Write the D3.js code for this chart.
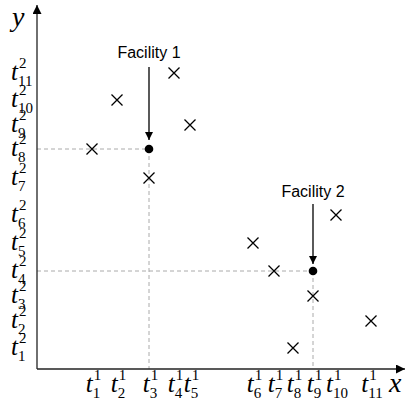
<!DOCTYPE html>
<html>
<head>
<meta charset="utf-8">
<script src="https://cdn.jsdelivr.net/npm/d3@7"></script>
<style>
  html, body { margin: 0; padding: 0; background: #fff; }
  svg { display: block; }
  .serif { font-family: "Liberation Serif", Tinos, "Times New Roman", "DejaVu Serif", serif; }
  .sans { font-family: "Liberation Sans", Arimo, Arial, Helvetica, sans-serif; }
</style>
</head>
<body>
<svg id="chart" width="406" height="401"></svg>
<script>
// Coordinates of the breakpoints on each axis (t^1_i on x, t^2_j on y)
const xTickSubs = ["1","2","3","4","5","6","7","8","9","10","11"];
const xTickValues = [55, 80, 112, 137, 153, 216, 237, 256, 276, 299, 334];
const xTickSup = "1";

const yTickSubs = ["1","2","3","4","5","6","7","8","9","10","11"];
const yTickValues = [21, 48, 73, 98, 126, 154, 191, 220, 244, 269, 296];
const yTickSup = "2";

// Demand points: [index of t^1, index of t^2] (1-based)
const demandX = [1, 2, 3, 4, 5, 6, 7, 8, 9, 10, 11];
const demandY = [8, 10, 7, 11, 9, 5, 4, 1, 3, 6, 2];

// Facilities located on breakpoint intersections
const facilityNames = ["Facility 1", "Facility 2"];
const facilityX = [3, 9];
const facilityY = [8, 4];

// Vertical placement of the callouts above each facility (pixels)
const calloutLift = [91, 74];
const arrowGapTop = [9, 7];
const arrowGapBottom = [9, 7];

const svg = d3.select("#chart");
const W = 406, H = 401;

const x = d3.scaleLinear().domain([0, 369]).range([37, 406]);
const y = d3.scaleLinear().domain([0, 369]).range([369, 0]);

const defs = svg.append("defs");
defs.append("marker")
  .attr("id", "axisHead")
  .attr("viewBox", "0 0 10 10")
  .attr("refX", 10).attr("refY", 5)
  .attr("markerWidth", 10).attr("markerHeight", 9)
  .attr("markerUnits", "userSpaceOnUse")
  .attr("orient", "auto")
  .append("path").attr("d", "M0,0 L10,5 L0,10 Z").attr("fill", "#000");
defs.append("marker")
  .attr("id", "calloutHead")
  .attr("viewBox", "0 0 10 10")
  .attr("refX", 10).attr("refY", 5)
  .attr("markerWidth", 9).attr("markerHeight", 8)
  .attr("markerUnits", "userSpaceOnUse")
  .attr("orient", "auto")
  .append("path").attr("d", "M0,0 L10,5 L0,10 Z").attr("fill", "#000");

// Dashed guides from each facility to both axes
const guides = svg.append("g")
  .attr("stroke", "#aaa")
  .attr("stroke-width", 1)
  .attr("stroke-dasharray", "4,3")
  .attr("fill", "none");
facilityNames.forEach((name, i) => {
  const fx = x(xTickValues[facilityX[i] - 1]);
  const fy = y(yTickValues[facilityY[i] - 1]);
  guides.append("line").attr("x1", x(0)).attr("x2", fx).attr("y1", fy).attr("y2", fy);
  guides.append("line").attr("x1", fx).attr("x2", fx).attr("y1", fy).attr("y2", y(0));
});

// Axes with arrowheads
svg.append("line")
  .attr("x1", x(0)).attr("y1", y(0)).attr("x2", x(0)).attr("y2", 5)
  .attr("stroke", "#222").attr("stroke-width", 1.3)
  .attr("marker-end", "url(#axisHead)");
svg.append("line")
  .attr("x1", x(0)).attr("y1", y(0)).attr("x2", W - 1).attr("y2", y(0))
  .attr("stroke", "#222").attr("stroke-width", 1.3)
  .attr("marker-end", "url(#axisHead)");

// Axis names
svg.append("text").text("y").attr("class", "serif")
  .attr("x", 12).attr("y", 26)
  .attr("font-style", "italic").attr("font-size", 28);
svg.append("text").text("x").attr("class", "serif")
  .attr("x", 389).attr("y", 392)
  .attr("font-style", "italic").attr("font-size", 28);

// Label "t" with stacked superscript and subscript
function stackedLabel(g, sup, sub) {
  const t = g.append("text").text("t").attr("class", "serif")
    .attr("font-style", "italic").attr("font-size", 25)
    .attr("x", 0).attr("y", 0);
  const tw = t.node().getComputedTextLength();
  const supT = g.append("text").text(sup).attr("class", "serif")
    .attr("font-size", 15)
    .attr("x", tw + 1).attr("y", -12);
  const subT = g.append("text").text(sub).attr("class", "serif")
    .attr("font-size", 15)
    .attr("x", tw).attr("y", 6);
  return tw + Math.max(subT.node().getComputedTextLength(), supT.node().getComputedTextLength());
}

// x tick labels, centred on each breakpoint
xTickValues.forEach((v, i) => {
  const g = svg.append("g");
  const w = stackedLabel(g, xTickSup, xTickSubs[i]);
  g.attr("transform", `translate(${x(v) - w / 2 + 1},392)`);
});

// y tick labels, left aligned
yTickValues.forEach((v, i) => {
  const g = svg.append("g");
  stackedLabel(g, yTickSup, yTickSubs[i]);
  g.attr("transform", `translate(11,${y(v) + 7})`);
});

// Demand points as crosses
const s = 5.5;
svg.append("g")
  .attr("stroke", "#000").attr("stroke-width", 1.3).attr("fill", "none")
  .selectAll("path")
  .data(demandX.map((d, i) => [xTickValues[d - 1], yTickValues[demandY[i] - 1]]))
  .join("path")
  .attr("d", d => {
    const px = x(d[0]), py = y(d[1]);
    return `M${px - s},${py - s}L${px + s},${py + s}M${px - s},${py + s}L${px + s},${py - s}`;
  });

// Facilities: dot, callout text and arrow
facilityNames.forEach((name, i) => {
  const fx = x(xTickValues[facilityX[i] - 1]);
  const fy = y(yTickValues[facilityY[i] - 1]);
  svg.append("circle").attr("cx", fx).attr("cy", fy).attr("r", 4.3).attr("fill", "#000");
  const ty = fy - calloutLift[i];
  svg.append("text").text(name).attr("class", "sans")
    .attr("x", fx).attr("y", ty)
    .attr("text-anchor", "middle")
    .attr("font-size", 16);
  svg.append("line")
    .attr("x1", fx).attr("x2", fx)
    .attr("y1", ty + arrowGapTop[i]).attr("y2", fy - arrowGapBottom[i])
    .attr("stroke", "#000").attr("stroke-width", 1.3)
    .attr("marker-end", "url(#calloutHead)");
});
</script>
</body>
</html>
